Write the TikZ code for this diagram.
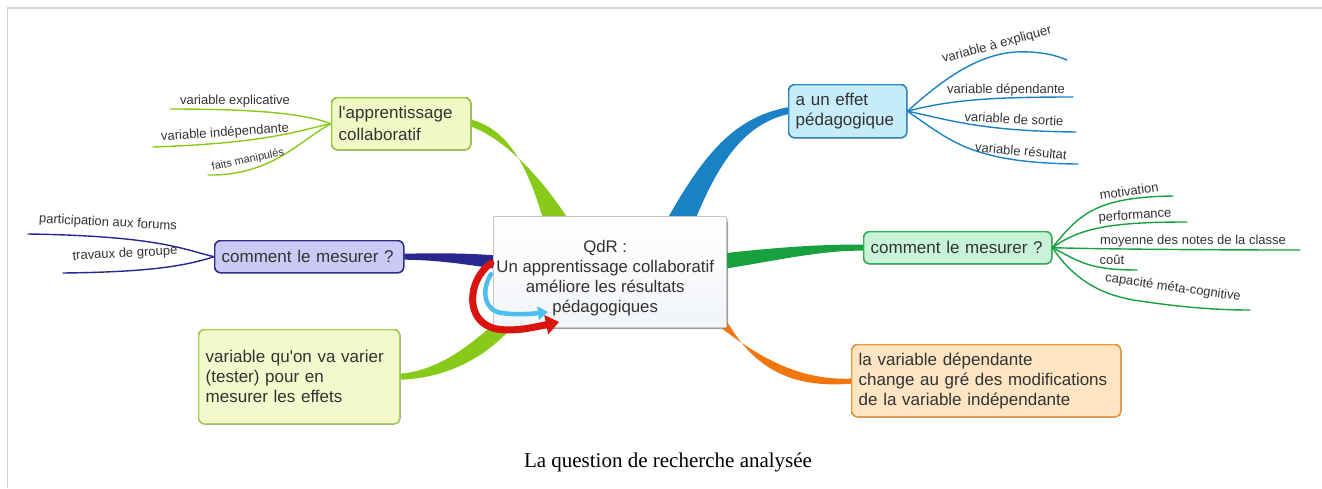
\documentclass[tikz,border=0pt]{standalone}
\usepackage{fontspec}
\setmainfont{Liberation Serif}
\setsansfont{Liberation Sans}
\usetikzlibrary{arrows.meta,shadows,calc}

\definecolor{framegray}{HTML}{D2D2D2}
\definecolor{ink}{HTML}{333333}
% box fills and borders
\definecolor{qdrfill}{HTML}{F1F4F8}
\definecolor{collabfill}{HTML}{F0F9C6}
\definecolor{collabline}{HTML}{9CCD3C}
\definecolor{effetfill}{HTML}{C6ECFA}
\definecolor{effetline}{HTML}{2B8CC4}
\definecolor{navyfill}{HTML}{CBCAF4}
\definecolor{navyline}{HTML}{2D2D8F}
\definecolor{mintfill}{HTML}{C9F3D9}
\definecolor{mintline}{HTML}{2FB455}
\definecolor{orangefill}{HTML}{FDE4C2}
\definecolor{orangeline}{HTML}{F09A3E}
\definecolor{limefill}{HTML}{F3F9CC}
\definecolor{limeline}{HTML}{A9D650}
% branch colours
\definecolor{brlime}{HTML}{88CA1A}
\definecolor{brblue}{HTML}{1A82C4}
\definecolor{brnavy}{HTML}{27278F}
\definecolor{brgreen}{HTML}{17A03D}
\definecolor{brorange}{HTML}{F0760F}
\definecolor{arrowred}{HTML}{D9140F}
\definecolor{arrowblue}{HTML}{4DBFEE}

\tikzset{
  mapbox/.style={draw, rounded corners=6pt, line width=1.4pt, anchor=north west,
    inner xsep=7pt, inner ysep=0pt, align=left, text=ink,
    font=\sffamily\fontsize{17}{20}\selectfont},
  leaf/.style={text=ink, font=\sffamily\fontsize{13}{15}\selectfont, inner sep=0pt},
  twig/.style={line width=1.4pt, line cap=round},
}

\begin{document}
\begin{tikzpicture}[x=1pt,y=-1pt]
\useasboundingbox (0,0) rectangle (1322,488);

% page frame
\draw[framegray, line width=1.5pt] (7.5,488) -- (7.5,8) -- (1322,8);

% ---------- box outlines first, so that their anchors exist ----------
\path
  node[mapbox, minimum width=233pt, minimum height=111pt, text width=219pt, align=center] (qdr) at (493,216) {}
  node[mapbox, minimum width=139pt, minimum height=52pt, text width=125pt] (collab) at (331,97) {}
  node[mapbox, minimum width=118pt, minimum height=53pt, text width=104pt] (effet) at (788,84) {}
  node[mapbox, minimum width=189pt, minimum height=32pt, text width=175pt] (lbox) at (214,240) {}
  node[mapbox, minimum width=188pt, minimum height=32pt, text width=174pt] (rbox) at (863,231) {}
  node[mapbox, minimum width=269pt, minimum height=72pt, text width=255pt] (dep) at (851,344) {}
  node[mapbox, minimum width=201pt, minimum height=94pt, text width=187pt] (varier) at (198,329) {};

% ---------- main branches (tapered) ----------
\fill[brlime] ($(qdr.north west)+(53,14)$) .. controls (530,170) and (510,130) .. ($(collab.east)+(0,-4)$)
  -- ($(collab.east)+(0,3)$) .. controls (500,137) and (540,172) .. ($(qdr.north west)+(82,14)$) -- cycle;
\fill[brblue] ($(qdr.north west)+(168,14)$) .. controls (700,160) and (730,118) .. ($(effet.west)+(0,-4)$)
  -- ($(effet.west)+(0,3)$) .. controls (740,125) and (715,170) .. ($(qdr.north west)+(198,14)$) -- cycle;
\fill[brnavy] ($(lbox.east)+(0,-3)$) .. controls (440,253) and (470,253) .. ($(qdr.west)+(12,-16)$)
  -- ($(qdr.west)+(12,-2)$) .. controls (470,265) and (440,260) .. ($(lbox.east)+(0,3)$) -- cycle;
\fill[brgreen] ($(qdr.east)+(-12,-18)$) .. controls (770,248) and (820,244) .. ($(rbox.west)+(0,-3)$)
  -- ($(rbox.west)+(0,3)$) .. controls (820,250) and (770,262) .. ($(qdr.east)+(-12,-2)$) -- cycle;
\fill[brorange] ($(qdr.south east)+(-18,-10)$) .. controls (760,360) and (800,380) .. ($(dep.west)+(0,-2)$)
  -- ($(dep.west)+(0,3)$) .. controls (795,388) and (755,372) .. ($(qdr.south east)+(-2,-10)$) -- cycle;
\fill[brlime] ($(qdr.south west)+(5,-8)$) .. controls (470,345) and (440,370) .. ($(varier.east)+(0,-3)$)
  -- ($(varier.east)+(0,3)$) .. controls (450,378) and (490,355) .. ($(qdr.south west)+(25,-8)$) -- cycle;

% ---------- twigs ----------
\coordinate (ce1) at (170,109);
\coordinate (ce2) at (153,147);
\coordinate (ce3) at (208,175);
\draw[twig, brlime] (collab.west) .. controls (305,114) and (260,109) .. (ce1);
\draw[twig, brlime] (collab.west) .. controls (300,130) and (270,143) .. (ce2);
\draw[twig, brlime] (collab.west) .. controls (300,140) and (272,176) .. (ce3);

\coordinate (le1) at (28,234);
\coordinate (le2) at (63,273);
\draw[twig, brnavy] (lbox.west) .. controls (185,250) and (160,236) .. (le1);
\draw[twig, brnavy] (lbox.west) .. controls (185,266) and (150,272) .. (le2);

\coordinate (ee1) at (1067,60);
\coordinate (ee2) at (1073,97);
\coordinate (ee3) at (1076,132);
\coordinate (ee4) at (1078,164);
\draw[twig, brblue] (effet.east) .. controls (940,82) and (975,55) .. (1015,52) .. controls (1040,51) and (1055,55) .. (ee1);
\draw[twig, brblue] (effet.east) .. controls (950,100) and (990,97) .. (ee2);
\draw[twig, brblue] (effet.east) .. controls (950,120) and (980,131) .. (ee3);
\draw[twig, brblue] (effet.east) .. controls (950,140) and (970,163) .. (ee4);

\coordinate (re1) at (1173,196);
\coordinate (re2) at (1187,222);
\coordinate (re3) at (1300,250);
\coordinate (re4) at (1137,270);
\coordinate (re5) at (1250,310);
\draw[twig, brgreen] (rbox.east) .. controls (1080,212) and (1100,197) .. (re1);
\draw[twig, brgreen] (rbox.east) .. controls (1080,228) and (1110,222) .. (re2);
\draw[twig, brgreen] (rbox.east) .. controls (1100,249) and (1200,250) .. (re3);
\draw[twig, brgreen] (rbox.east) .. controls (1080,262) and (1090,270) .. (re4);
\draw[twig, brgreen] (rbox.east) .. controls (1070,274) and (1095,295) .. (1140,301) .. controls (1180,307) and (1215,310) .. (re5);

% ---------- boxes with their texts ----------
\node[mapbox, draw=gray!45, line width=0.8pt, rounded corners=1pt, top color=white, bottom color=qdrfill,
  drop shadow={shadow xshift=2pt, shadow yshift=-2pt, opacity=0.2},
  minimum width=233pt, minimum height=111pt, text width=219pt] at (493,216) {};
\node[text=ink, align=center, inner sep=0pt, font=\sffamily\fontsize{16.8}{20.2}\selectfont] (qdrtext)
  at ($(qdr.center)+(-5,6)$) {QdR :\\Un apprentissage collaboratif\\améliore les résultats\\pédagogiques};
\node[mapbox, fill=collabfill, draw=collabline, minimum width=139pt, minimum height=52pt, text width=125pt,
  font=\sffamily\fontsize{17}{22}\selectfont] at (331,97) {l\textquotesingle apprentissage\\collaboratif};
\node[mapbox, fill=effetfill, draw=effetline, minimum width=118pt, minimum height=53pt, text width=104pt] at (788,84)
  {a un effet\\pédagogique};
\node[mapbox, fill=navyfill, draw=navyline, minimum width=189pt, minimum height=32pt, text width=175pt] at (214,240)
  {comment le mesurer ?};
\node[mapbox, fill=mintfill, draw=mintline, minimum width=188pt, minimum height=32pt, text width=174pt] at (863,231)
  {comment le mesurer ?};
\node[mapbox, fill=orangefill, draw=orangeline, minimum width=269pt, minimum height=72pt, text width=255pt] at (851,344)
  {la variable dépendante\\change au gré des modifications\\de la variable indépendante};
\node[mapbox, fill=limefill, draw=limeline, minimum width=201pt, minimum height=94pt, text width=187pt] at (198,329)
  {variable qu\textquotesingle on va varier\\(tester) pour en\\mesurer les effets};

% ---------- leaf labels ----------
\node[leaf] (c1) at (235,101) {variable explicative};
\node[leaf, rotate=4] (c2) at (225,133) {variable indépendante};
\node[leaf, rotate=12, font=\sffamily\fontsize{11}{13}\selectfont] (c3) at (248,160) {faits manipulés};

\node[leaf, rotate=-3] (l1) at (108,223) {participation aux forums};
\node[leaf, rotate=3] (l2) at (125,254) {travaux de groupe};

\node[leaf, rotate=15] (e1) at (997,45) {variable à expliquer};
\node[leaf] (e2) at (1006,90) {variable dépendante};
\node[leaf, rotate=-3] (e3) at (1014,119) {variable de sortie};
\node[leaf, rotate=-5] (e4) at (1021,151) {variable résultat};

\node[leaf, rotate=8] (r1) at (1129,191) {motivation};
\node[leaf, rotate=4] (r2) at (1135,216) {performance};
\node[leaf] (r3) at (1193,241) {moyenne des notes de la classe};
\node[leaf] (r4) at (1112,260) {coût};
\node[leaf, rotate=-8] (r5) at (1173,288) {capacité méta-cognitive};

% ---------- cycle arrows over the central box ----------
\draw[arrowred, line width=7pt, line cap=round, -{Triangle[length=13pt,width=19pt]}]
  ($(qdr.west)+(-2,-9)$) .. controls (467,280) and (464,323) .. (497,329) .. controls (515,332) and (535,327) .. (559,322);
\draw[arrowblue, line width=4.5pt, line cap=round, -{Triangle[length=10pt,width=13pt]}]
  ($(qdr.west)+(-2,2)$) .. controls (481,290) and (484,311) .. (502,313) .. controls (515,315) and (530,314) .. (548,312);

% ---------- caption ----------
\node[font=\rmfamily\fontsize{21}{24}\selectfont, text=black, inner sep=0pt] (caption) at (668,462)
  {La question de recherche analysée};
\end{tikzpicture}
\end{document}
